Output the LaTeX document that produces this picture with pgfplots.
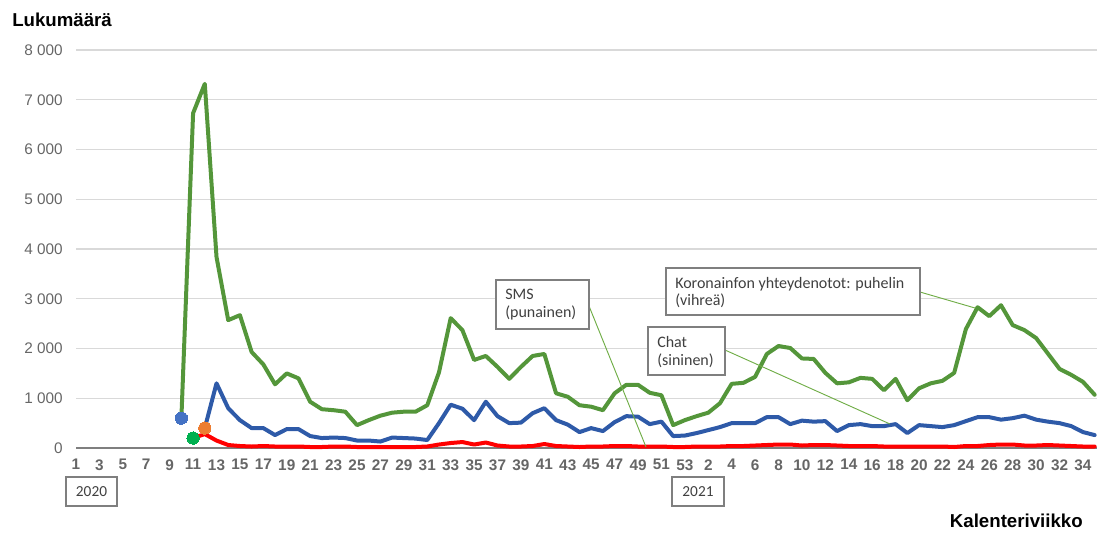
\documentclass[border=0pt]{standalone}
\usepackage{pgfplots}
\pgfplotsset{compat=1.18}
\usepackage{fontspec}
\setmainfont{Liberation Sans}
\newfontfamily\calib{Carlito}
\definecolor{cgreen}{HTML}{54963A}
\definecolor{cblue}{HTML}{2E5AA8}
\definecolor{cred}{HTML}{FF0000}
\definecolor{dblue}{HTML}{4472C4}
\definecolor{dgreen}{HTML}{00B050}
\definecolor{dorange}{HTML}{ED7D31}
\definecolor{tickgray}{HTML}{666666}
\definecolor{gridgray}{HTML}{D9D9D9}
\definecolor{boxgray}{HTML}{7F7F7F}
\definecolor{leader}{HTML}{70AD47}
\definecolor{btext}{HTML}{404040}
\begin{document}
\begin{tikzpicture}[x=0.75pt,y=0.75pt]
\path[use as bounding box] (0,0) rectangle (1100,-533);
\begin{axis}[
  at={(57pt,-336pt)}, anchor=south west,
  scale only axis, width=765.75pt, height=298.5pt,
  xmin=1, xmax=88.2, ymin=0, ymax=8000,
  axis x line=bottom, axis y line=left,
  x axis line style={draw=boxgray, line width=1.3pt, -},
  y axis line style={draw=none},
  major tick length=0pt,
  xtick={1,3,...,53,55,57,...,87},
  xticklabels={1,3,5,7,9,11,13,15,17,19,21,23,25,27,29,31,33,35,37,39,41,43,45,47,49,51,53,2,4,6,8,10,12,14,16,18,20,22,24,26,28,30,32,34},
  ytick={0,1000,...,8000},
  yticklabels={0,1 000,2 000,3 000,4 000,5 000,6 000,7 000,8 000},
  xticklabel style={font=\fontsize{11.5}{13}\selectfont\bfseries, text=tickgray, yshift=-5pt},
  yticklabel style={font=\fontsize{11.5}{13}\selectfont, text=tickgray, anchor=east, xshift=-6.5pt},
  ymajorgrids, grid style={draw=gridgray, line width=0.8pt},
  clip=false,
  every axis plot/.append style={line width=3pt, line join=round, line cap=round},
]
% green: phone
\addplot[cgreen] coordinates {
(10,600)(11,6730)(12,7320)(13,3840)(14,2570)(15,2670)(16,1930)(17,1680)(18,1280)(19,1500)
(20,1400)(21,930)(22,780)(23,760)(24,730)(25,460)(26,560)(27,650)(28,710)(29,730)
(30,730)(31,860)(32,1520)(33,2610)(34,2370)(35,1770)(36,1850)(37,1630)(38,1390)(39,1630)
(40,1850)(41,1890)(42,1100)(43,1030)(44,860)(45,830)(46,760)(47,1100)(48,1270)(49,1270)
(50,1110)(51,1060)(52,460)(53,560)(54,640)(55,710)(56,900)(57,1290)(58,1310)(59,1430)
(60,1890)(61,2050)(62,2010)(63,1800)(64,1790)(65,1510)(66,1300)(67,1320)(68,1410)(69,1390)
(70,1160)(71,1390)(72,960)(73,1200)(74,1300)(75,1350)(76,1510)(77,2390)(78,2830)(79,2650)
(80,2870)(81,2470)(82,2370)(83,2210)(84,1900)(85,1590)(86,1470)(87,1330)(88,1070)
};
% blue: chat
\addplot[cblue] coordinates {
(12,400)(13,1300)(14,800)(15,560)(16,400)(17,400)(18,260)(19,380)
(20,380)(21,240)(22,200)(23,210)(24,200)(25,150)(26,150)(27,130)(28,210)(29,200)
(30,190)(31,160)(32,500)(33,870)(34,790)(35,560)(36,930)(37,640)(38,500)(39,510)
(40,700)(41,800)(42,560)(43,470)(44,320)(45,400)(46,340)(47,520)(48,640)(49,630)
(50,480)(51,530)(52,240)(53,250)(54,300)(55,360)(56,420)(57,500)(58,500)(59,500)
(60,620)(61,620)(62,480)(63,550)(64,530)(65,540)(66,340)(67,460)(68,480)(69,440)
(70,440)(71,480)(72,300)(73,460)(74,440)(75,420)(76,460)(77,540)(78,620)(79,620)
(80,570)(81,600)(82,650)(83,570)(84,530)(85,500)(86,440)(87,320)(88,260)
};
% red: SMS
\addplot[cred] coordinates {
(11,200)(12,280)(13,150)(14,60)(15,40)(16,30)(17,40)(18,30)(19,30)
(20,30)(21,20)(22,20)(23,30)(24,30)(25,20)(26,20)(27,20)(28,20)(29,20)
(30,20)(31,30)(32,70)(33,100)(34,120)(35,70)(36,110)(37,50)(38,30)(39,30)
(40,40)(41,80)(42,40)(43,30)(44,20)(45,30)(46,30)(47,40)(48,40)(49,30)
(50,30)(51,30)(52,20)(53,20)(54,30)(55,30)(56,30)(57,40)(58,40)(59,50)
(60,60)(61,70)(62,70)(63,50)(64,60)(65,60)(66,50)(67,40)(68,40)(69,40)
(70,30)(71,30)(72,30)(73,30)(74,30)(75,30)(76,20)(77,40)(78,40)(79,60)
(80,70)(81,70)(82,50)(83,50)(84,60)(85,50)(86,40)(87,30)(88,30)
};
% start markers
\addplot[only marks, mark=*, mark size=4.6pt, color=dblue, mark options={draw=dblue, fill=dblue, line width=0pt}] coordinates {(10,600)};
\addplot[only marks, mark=*, mark size=4.6pt, color=dgreen, mark options={draw=dgreen, fill=dgreen, line width=0pt}] coordinates {(11,200)};
\addplot[only marks, mark=*, mark size=4.6pt, color=dorange, mark options={draw=dorange, fill=dorange, line width=0pt}] coordinates {(12,400)};
\end{axis}
% titles
\node[anchor=base west, inner sep=0, font=\fontsize{14}{16}\selectfont\bfseries] at (12,-26) {Lukumäärä};
\node[anchor=base east, inner sep=0, font=\fontsize{14}{16}\selectfont\bfseries] at (1083,-527) {Kalenteriviikko};
% year boxes
\draw[boxgray, line width=0.9pt] (66,-477) rectangle (117,-506);
\node[font=\calib\fontsize{11.5}{13}\selectfont, text=btext] at (91.5,-491.5) {2020};
\draw[boxgray, line width=0.9pt] (672,-477) rectangle (724,-506);
\node[font=\calib\fontsize{11.5}{13}\selectfont, text=btext] at (698,-491.5) {2021};
% leader lines
\draw[leader, line width=0.7pt] (589,-306) -- (646,-447);
\draw[leader, line width=0.7pt] (725,-350) -- (890,-424);
\draw[leader, line width=0.7pt] (920,-292) -- (975,-308);
% annotation boxes
\draw[boxgray, line width=0.9pt, fill=white] (496,-280) rectangle (589,-329);
\node[anchor=base west, inner sep=0, font=\calib\fontsize{12}{14}\selectfont, text=btext] at (505,-299) {SMS};
\node[anchor=base west, inner sep=0, font=\calib\fontsize{12}{14}\selectfont, text=btext] at (505,-317) {(punainen)};
\draw[boxgray, line width=0.9pt, fill=white] (648,-327) rectangle (725,-375);
\node[anchor=base west, inner sep=0, font=\calib\fontsize{12}{14}\selectfont, text=btext] at (657,-347) {Chat};
\node[anchor=base west, inner sep=0, font=\calib\fontsize{12}{14}\selectfont, text=btext] at (657,-365) {(sininen)};
\draw[boxgray, line width=0.9pt, fill=white] (666,-268) rectangle (920,-315);
\node[anchor=base west, inner sep=0, font=\calib\fontsize{12}{14}\selectfont, text=btext] at (675,-288) {Koronainfon yhteydenotot: puhelin};
\node[anchor=base west, inner sep=0, font=\calib\fontsize{12}{14}\selectfont, text=btext] at (675,-305) {(vihreä)};
\end{tikzpicture}
\end{document}
